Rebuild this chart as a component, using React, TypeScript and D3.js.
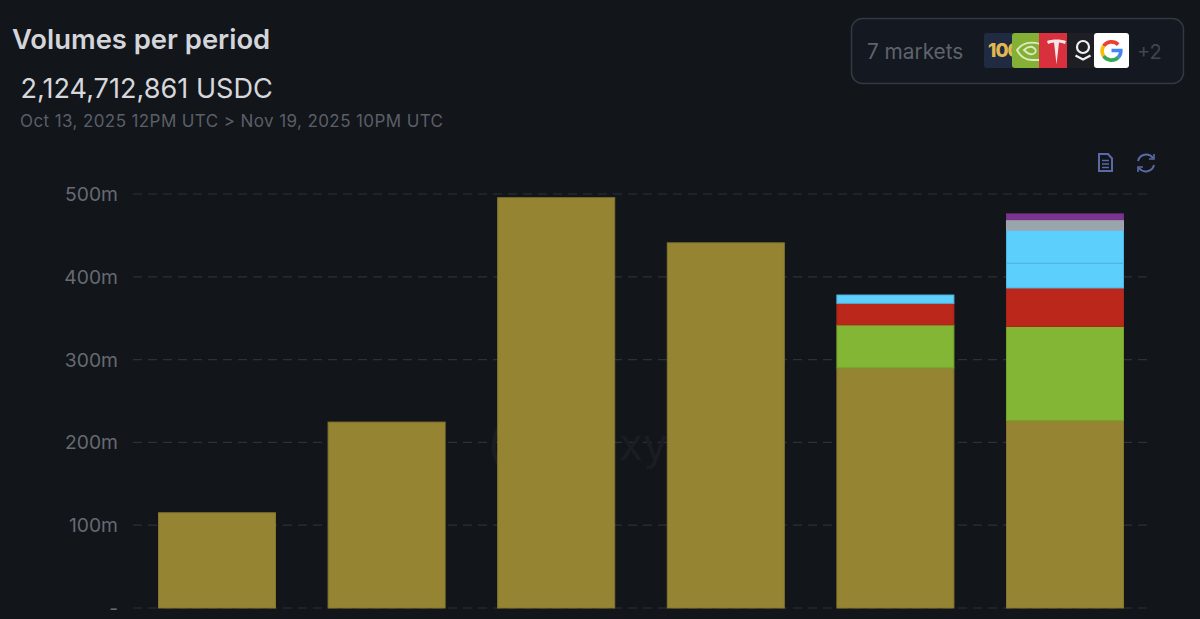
import React from 'react';
import * as d3 from 'd3';

const periods = ['P1', 'P2', 'P3', 'P4', 'P5', 'P6'];
const seriesKeys = ['xyz100', 'nvda', 'tsla', 'pltr', 'googl', 'other1', 'other2'];
const xyz100 = [115, 224.500, 495.500, 441, 290, 226.500];
const nvda = [0, 0, 0, 0, 52, 113.500];
const tsla = [0, 0, 0, 0, 26, 46.500];
const pltr = [0, 0, 0, 0, 10, 30];
const googl = [0, 0, 0, 0, 0, 40];
const other1 = [0, 0, 0, 0, 0, 12.500];
const other2 = [0, 0, 0, 0, 0, 7];
const seriesColors = ['#958533', '#83b635', '#bb281b', '#5ccffd', '#5ccffd', '#9aa5ab', '#7b3590'];
const seriesEdges = ['#857630', '#76a32f', '#a8281c', '#52b6e0', '#52b6e0', '#a9a2ad', '#74308a'];
const yTicks = [0, 100, 200, 300, 400, 500];

const sans = 'Inter, "Liberation Sans", sans-serif';
const width = 1200;
const height = 619;

const App: React.FC = () => {
  const table = periods.map((period, i) => ({
    period,
    xyz100: xyz100[i],
    nvda: nvda[i],
    tsla: tsla[i],
    pltr: pltr[i],
    googl: googl[i],
    other1: other1[i],
    other2: other2[i],
  }));

  const x = d3.scaleBand<string>().domain(periods).range([132.2, 1149.8]).paddingInner(0.31).paddingOuter(0.155);
  const y = d3.scaleLinear().domain([0, 500]).range([608, 194]);
  const stacked = d3.stack<any>().keys(seriesKeys)(table);
  const tickLabel = (t: number) => (t === 0 ? '-' : `${t}m`);

  return (
    <svg
      width={width}
      height={height}
      viewBox={`0 0 ${width} ${height}`}
      style={{ position: 'absolute', left: 0, top: 0, background: '#12151a', fontFamily: sans }}
    >
      <rect width={width} height={height} fill="#12151a" />

      {/* header */}
      <text x={12} y={49} fontSize={27.4} fontWeight={600} fill="#d3d5da">Volumes per period</text>
      <text x={20.500} y={98} fontSize={27.100} fill="#d6d8dc">2,124,712,861 USDC</text>
      <text x={20} y={127} fontSize={17} letterSpacing={0.4} fill="#5b5f68">Oct 13, 2025 12PM UTC &gt; Nov 19, 2025 10PM UTC</text>

      {/* markets box */}
      <rect x={851.500} y={18.500} width={332} height={65} rx={11} fill="#141820" stroke="#333842" strokeWidth={1.500} />
      <text x={867} y={59} fontSize={20.800} fill="#5f636c">7 markets</text>
      <g>
        <rect x={984} y={33} width={34} height={35} rx={3} fill="#202b42" />
        <text x={988} y={57} fontSize={19} fontWeight={800} letterSpacing={-1} fill="#e0b94f">100</text>
        <path d="M1012 36a3 3 0 0 1 3-3h26v35h-26a3 3 0 0 1-3-3z" fill="#84b135" />
        <path d="M1017 50c5-7 13-9 23-6v16h-8c-7 0-12-4-15-10z" fill="none" stroke="#dcebc0" strokeWidth={1.800} />
        <path d="M1024 50c3-3 7-4 10-2 3 2 2 5-1 6-3 1-6-1-9-4z" fill="none" stroke="#dcebc0" strokeWidth={1.800} />
        <path d="M1039 33h29v35h-29z" fill="#d9303d" />
        <path d="M1047 41c5-2 14-2 19 0l-1 3c-2-1-4-1.500-6-1.500l-2.500 22-2.500-22c-2 0-4 .5-6 1.500z" fill="#f3e6e6" />
        <path d="M1067 33h28v35h-28z" fill="#1d1f24" />
        <circle cx={1083} cy={47} r={6} fill="none" stroke="#f1f1f1" strokeWidth={2.200} />
        <path d="M1075.500 55.500l7.500 4 7.500-4" fill="none" stroke="#f1f1f1" strokeWidth={2.200} />
        <rect x={1094} y={33} width={35} height={35} rx={3} fill="#ffffff" />
        <g fill="none" strokeWidth={3.600}>
          <path d="M1118.200 44.600a9.600 9.600 0 0 0-14.600 1.400" stroke="#e94235" />
          <path d="M1103.600 46a9.600 9.600 0 0 0 0 10" stroke="#fbbc05" />
          <path d="M1103.600 56a9.600 9.600 0 0 0 14.600 1.400" stroke="#34a853" />
          <path d="M1118.200 57.400a9.600 9.600 0 0 0 2.600-6.900h-9.300" stroke="#4285f4" />
        </g>
      </g>
      <text x={1137} y={59} fontSize={20} fill="#41454e">+2</text>

      {/* toolbar icons */}
      <g fill="none" stroke="#5a6aa6" strokeWidth={2}>
        <path d="M1099 154h9l4 4.500V171h-13z" />
        <path d="M1102 160.500h7M1102 164h7M1102 167.500h7" strokeWidth={1.500} />
        <path d="M1138 161a8.500 8.500 0 0 1 15-3M1154 165a8.500 8.500 0 0 1-15 3" />
        <path d="M1154 154v5h-5M1138 172v-5h5" strokeWidth={1.600} />
      </g>

      {/* grid */}
      {yTicks.map((t) => (
        <g key={t}>
          <line x1={133} x2={1147} y1={y(t)} y2={y(t)} stroke="#2c3037" strokeWidth={1.200} strokeDasharray="9 6" />
          <text x={118} y={y(t) + 7} fontSize={19.300} textAnchor="end" fill="#666a72">{tickLabel(t)}</text>
        </g>
      ))}

      {/* watermark, only the parts showing between bars */}
      <text x={487} y={460} fontSize={44} fill="#1a1d23">(</text>
      <text x={619} y={460} fontSize={44} fill="#1a1d23">xy</text>

      {/* bars */}
      {stacked.map((layer, li) => (
        <g key={layer.key} fill={seriesColors[li]} stroke={seriesEdges[li]} strokeWidth={1}>
          {layer.map((d, i) =>
            d[1] > d[0] ? (
              <rect
                key={periods[i]}
                x={x(periods[i])}
                y={y(d[1])}
                width={x.bandwidth()}
                height={y(d[0]) - y(d[1])}
              />
            ) : null
          )}
        </g>
      ))}
    </svg>
  );
};

export default App;
